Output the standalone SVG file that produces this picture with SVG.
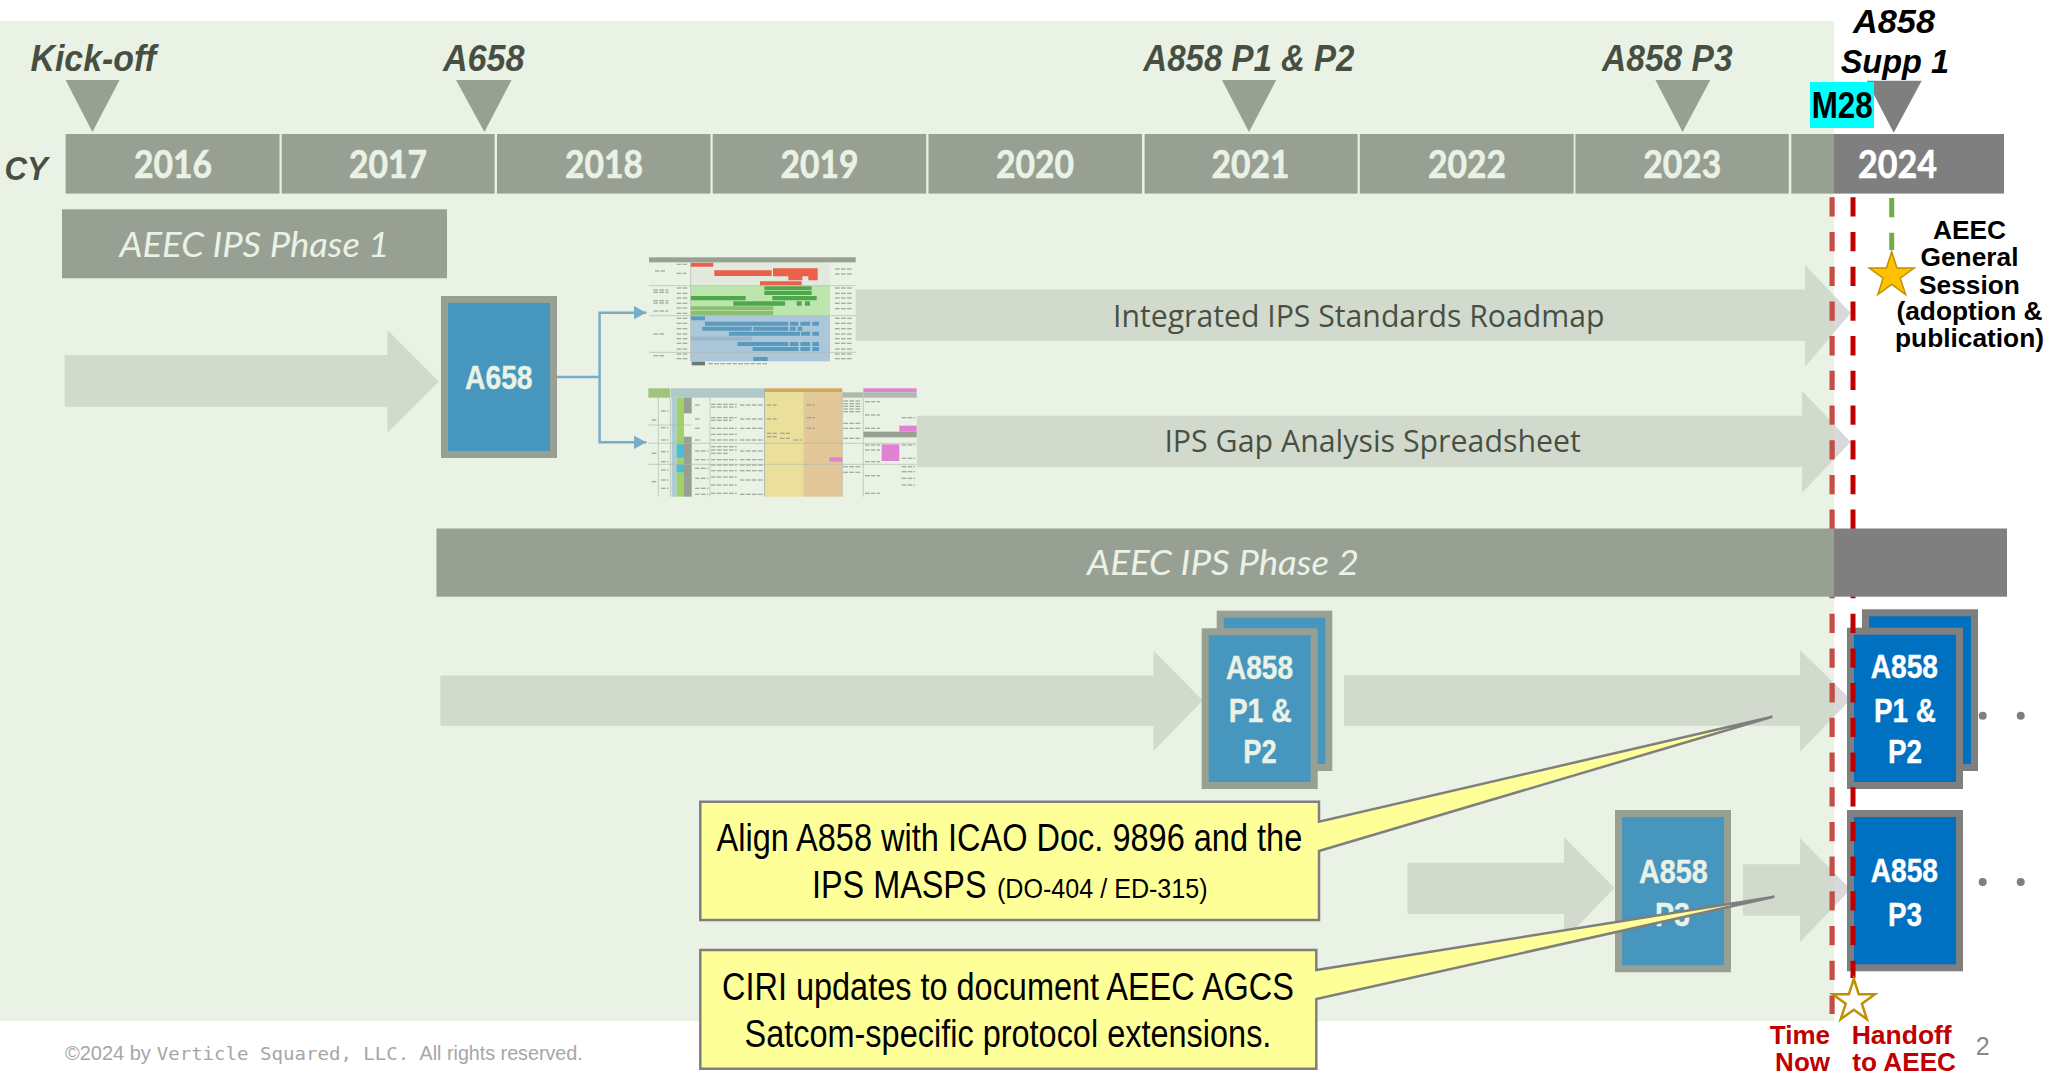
<svg xmlns="http://www.w3.org/2000/svg" width="2049" height="1078" viewBox="0 0 2049 1078">
<style>
.seg{fill:#7F7F7F}
.arrow{fill:#D9D9D9}
.tri{fill:#7F7F7F}
.box{fill:#0070C0;stroke:#7F7F7F;stroke-width:7}
.yr{font:700 38px Lato,"Liberation Sans",sans-serif;fill:#fff;stroke:#fff;stroke-width:.6}
.ms{font:italic 700 36px "Liberation Sans",Arial,sans-serif;fill:#000}
.ph{font:italic 400 35px Lato,"Liberation Sans",sans-serif;fill:#fff}
.bt{font:700 34px "Liberation Sans",Arial,sans-serif;fill:#fff;stroke:#fff;stroke-width:.4}
.lab{font:400 31px "Open Sans","Liberation Sans",sans-serif;fill:#000}
.gs{font:700 26.3px "Liberation Sans",Arial,sans-serif;fill:#000;text-anchor:middle}
.red{font:700 26px "Liberation Sans",Arial,sans-serif;fill:#C00000}
.co{fill:#FFFF99;stroke:#7F7F7F;stroke-width:2.5;stroke-linejoin:miter}
.ct{font:400 38px "Liberation Sans",Arial,sans-serif;fill:#000}
.foot{font:400 20px "Liberation Sans",Arial,sans-serif;fill:#A6A6A6}
.dash{stroke:#C00000;stroke-width:5;stroke-dasharray:19.3 15.4;fill:none}
.conn{stroke:#4F94CC;stroke-width:2.5;fill:none}
.stub{stroke:#6f6f6f;stroke-width:3.2;fill:none;stroke-dasharray:14 4}
</style>
<defs>
<marker id="ah" markerUnits="userSpaceOnUse" markerWidth="13" markerHeight="14" refX="12.4" refY="6.6" orient="auto"><path d="M0,0L12.4,6.6L0,13.2Z" fill="#4F94CC"/></marker>
<filter id="soft" x="-2%" y="-2%" width="104%" height="104%"><feGaussianBlur stdDeviation="1.4"/></filter>
</defs>
<rect width="2049" height="1078" fill="#fff"/>
<g id="timeline">
<rect class="seg" x="65.6" y="134" width="213.9" height="59.6"/>
<rect class="seg" x="281.7" y="134" width="212.9" height="59.6"/>
<rect class="seg" x="497" y="134" width="213.5" height="59.6"/>
<rect class="seg" x="712.7" y="134" width="213.5" height="59.6"/>
<rect class="seg" x="928.5" y="134" width="213.5" height="59.6"/>
<rect class="seg" x="1144.6" y="134" width="213" height="59.6"/>
<rect class="seg" x="1359.8" y="134" width="213.9" height="59.6"/>
<rect class="seg" x="1575.4" y="134" width="213.4" height="59.6"/>
<rect class="seg" x="1791.3" y="134" width="212.7" height="59.6"/>
<text class="yr" x="134" y="177.7" textLength="78" lengthAdjust="spacingAndGlyphs">2016</text>
<text class="yr" x="349" y="177.7" textLength="78" lengthAdjust="spacingAndGlyphs">2017</text>
<text class="yr" x="565" y="177.7" textLength="78" lengthAdjust="spacingAndGlyphs">2018</text>
<text class="yr" x="780.5" y="177.7" textLength="78" lengthAdjust="spacingAndGlyphs">2019</text>
<text class="yr" x="996" y="177.7" textLength="78" lengthAdjust="spacingAndGlyphs">2020</text>
<text class="yr" x="1211.6" y="177.7" textLength="78" lengthAdjust="spacingAndGlyphs">2021</text>
<text class="yr" x="1428" y="177.7" textLength="78" lengthAdjust="spacingAndGlyphs">2022</text>
<text class="yr" x="1643.3" y="177.7" textLength="78" lengthAdjust="spacingAndGlyphs">2023</text>
<text class="yr" x="1858" y="177.7" textLength="79" lengthAdjust="spacingAndGlyphs">2024</text>
<text class="ms" x="4.5" y="180" textLength="43.3" lengthAdjust="spacingAndGlyphs" style="font-size:33px">CY</text>
</g>
<g id="ms-kickoff"><polygon class="tri" points="65.6,80 119.6,80 92.4,132"/><text class="ms" x="30.4" y="71" textLength="125.6" lengthAdjust="spacingAndGlyphs">Kick-off</text></g>
<g id="ms-a658"><polygon class="tri" points="456,80 511.6,80 484.4,132"/><text class="ms" x="442.9" y="71" textLength="81.7" lengthAdjust="spacingAndGlyphs">A658</text></g>
<g id="ms-a858p1p2"><polygon class="tri" points="1221.9,80 1276.3,80 1249,132"/><text class="ms" x="1143.3" y="71" textLength="211.2" lengthAdjust="spacingAndGlyphs">A858 P1 &amp; P2</text></g>
<g id="ms-a858p3"><polygon class="tri" points="1655.4,80 1710.3,80 1682.6,132"/><text class="ms" x="1602" y="71" textLength="130.6" lengthAdjust="spacingAndGlyphs">A858 P3</text></g>
<g id="phase1"><rect x="62" y="209.3" width="385" height="69" fill="#7F7F7F"/><text class="ph" x="119.5" y="256.7" textLength="270" lengthAdjust="spacingAndGlyphs">AEEC IPS Phase 1</text></g>
<g id="roadmap-arrow"><polygon class="arrow" points="855,289.5 1805,289.5 1805,265 1850.7,313 1805,366.7 1805,341 855,341"/><text class="lab" x="1113" y="326.7" textLength="491.5" lengthAdjust="spacingAndGlyphs">Integrated IPS Standards Roadmap</text></g>
<g id="gap-arrow"><polygon class="arrow" points="916.7,415.7 1802,415.7 1802,390.7 1850.7,442 1802,492.7 1802,467 916.7,467"/><text class="lab" x="1164.4" y="452.3" textLength="416.5" lengthAdjust="spacingAndGlyphs">IPS Gap Analysis Spreadsheet</text></g>
<g id="flow-arrows">
<polygon class="arrow" points="64.7,355 387.5,355 387.5,330 438.8,381.5 387.5,432.7 387.5,406.7 64.7,406.7"/>
<polygon class="arrow" points="440.4,675.5 1153.5,675.5 1153.5,650.5 1202.7,700.5 1153.5,751 1153.5,725.7 440.4,725.7"/>
<polygon class="arrow" points="1344,675 1800,675 1800,650 1850.7,699.5 1800,751.7 1800,725.7 1344,725.7"/>
<polygon class="arrow" points="1407.5,862.7 1564,862.7 1564,837.3 1614.5,888 1564,940 1564,914 1407.5,914"/>
<polygon class="arrow" points="1743,864.3 1800,864.3 1800,838.3 1850.7,889.3 1800,942.3 1800,915.7 1743,915.7"/>
</g>
<g id="connectors">
<path class="conn" d="M557,377H599.6"/>
<path class="conn" d="M599.6,377V312.7H646.4" marker-end="url(#ah)"/>
<path class="conn" d="M599.6,377V442.3H646.4" marker-end="url(#ah)"/>
</g>
<g id="a658"><rect class="box" x="444.5" y="299.5" width="109" height="155"/><text class="bt" x="465" y="389" textLength="67.6" lengthAdjust="spacingAndGlyphs">A658</text></g>
<g id="thumb-roadmap" transform="translate(645,254) scale(0.33333)">
<g filter="url(#soft)">
<rect x="12" y="10" width="620" height="325" fill="#fff"/>
<rect x="137" y="25" width="418" height="70" fill="#F2F2F2"/>
<rect x="137" y="95" width="418" height="90" fill="#B8EDA8"/>
<rect x="137" y="185" width="418" height="137" fill="#9DBCEB"/>
<rect x="12" y="10" width="620" height="15" fill="#7F7F7F"/>
<path fill="#FF1A10" d="M137,26h68v12h-68zM208,49h172v17h-172zM384,43h134v13h-134zM384,56h134v11h-134zM430,67h42v12h-42zM490,67h28v12h-28zM345,82h125v12h-125z"/>
<path fill="#0E8A10" d="M358,97h142v12h-142zM358,111h142v12h-142zM137,126h165v13h-165zM382,126h133v13h-133zM265,142h155v13h-155zM455,142h15v13h-15zM480,142h15v13h-15z"/>
<path fill="#6BB04A" d="M137,157h248v12h-248zM137,171h248v13h-248z"/>
<path fill="#1F78C0" d="M137,187h43v12h-43zM180,203h250v12h-250zM435,203h25v12h-25zM466,203h29v12h-29zM502,203h20v12h-20zM172,218h148v12h-148zM325,218h105v12h-105zM435,218h17v12h-17zM458,218h14v12h-14zM252,233h213v12h-213zM468,233h27v12h-27zM502,233h20v12h-20zM277,264h153v12h-153zM435,264h25v12h-25zM466,264h29v12h-29zM502,264h20v12h-20zM323,279h137v12h-137zM466,279h29v12h-29zM502,279h20v12h-20zM325,309h43v12h-43z"/>
<rect x="137" y="248" width="183" height="12" fill="#7FA6D8"/>
<rect x="140" y="323" width="40" height="11" fill="#404040"/>
<path class="stub" d="M190,329H370M30,51H60M95,31H125M95,58H125M25,108H70M25,115H70M25,140H70M25,147H70M25,171H70M25,240H60M25,305H60M95,102H130M95,118H130M95,132H130M95,148H130M95,162H130M95,178H130M95,193H130M95,208H130M95,224H130M95,240H130M95,254H130M95,268H130M95,285H130M95,300H130M95,314H130M570,45H620M570,60H620M570,102H620M570,118H620M570,132H620M570,148H620M570,164H620M570,193H620M570,208H620M570,224H620M570,240H620M570,254H620M570,268H620M570,285H620M570,300H620M570,314H620"/>
<path d="M12,95H632M12,185H632M12,295H632M137,25V322" stroke="#a6a6a6" stroke-width="2" fill="none"/>
</g></g>
<g id="thumb-gap" transform="translate(645,385) scale(0.33333)">
<g filter="url(#soft)">
<rect x="10" y="10" width="805" height="325" fill="#fff"/>
<rect x="10" y="10" width="66" height="28" fill="#8DB85A"/>
<rect x="78" y="10" width="280" height="28" fill="#A3BFD0"/>
<rect x="360" y="10" width="232" height="12" fill="#E08A20"/>
<rect x="360" y="22" width="115" height="313" fill="#FFE38A"/>
<rect x="475" y="22" width="117" height="313" fill="#F2BC85"/>
<rect x="592" y="22" width="63" height="16" fill="#A6A6A6"/>
<rect x="655" y="10" width="160" height="12" fill="#F04FE0"/>
<rect x="655" y="22" width="160" height="16" fill="#A6A6A6"/>
<rect x="80" y="38" width="15" height="297" fill="#9DC3E6"/>
<rect x="95" y="38" width="22" height="297" fill="#8CCB3C"/>
<rect x="95" y="178" width="22" height="40" fill="#00B0F0"/>
<rect x="95" y="238" width="22" height="24" fill="#00B0F0"/>
<rect x="117" y="38" width="23" height="47" fill="#7F7F7F"/>
<rect x="117" y="155" width="23" height="180" fill="#7F7F7F"/>
<rect x="763" y="122" width="52" height="18" fill="#F04FE0"/>
<rect x="710" y="178" width="53" height="50" fill="#F04FE0"/>
<rect x="553" y="217" width="39" height="13" fill="#F04FE0"/>
<rect x="655" y="140" width="160" height="17" fill="#7F7F7F"/>
<rect x="358" y="10" width="2" height="325" fill="#7F7F7F"/>
<path class="stub" d="M198,58H275M198,66H275M198,98H275M198,106H260M198,130H275M198,148H275M198,165H275M198,185H275M198,195H275M198,205H250M198,224H275M198,240H275M198,257H275M198,276H275M198,300H275M198,325H275M150,60H165M150,102H165M150,130H165M150,165H165M150,198H190M150,224H190M150,250H190M150,280H190M150,310H190M150,328H190M285,60H355M285,102H355M285,130H355M285,165H355M285,198H355M285,224H355M285,240H355M285,257H355M285,285H355M285,328H355M365,60H395M365,102H395M365,145H395M365,155H395M405,145H435M405,160H435M445,165H470M485,60H510M485,98H510M485,130H510M595,48H650M595,56H650M595,64H650M595,72H650M595,80H650M595,115H650M595,130H650M595,160H650M595,245H650M595,262H650M660,50H705M660,90H705M660,130H705M660,180H705M660,195H705M660,230H705M660,272H705M660,325H705M770,98H810M770,180H810M770,220H810M770,245H810M770,260H810M770,280H810M770,300H810M20,105H35M20,205H35M20,290H35M48,78H70M48,128H70M48,165H70M48,200H70M48,230H70M48,255H70M48,285H70M48,310H70"/>
<path d="M10,120H140M10,175H815M10,238H815M76,38V335M40,38V335M195,38V335M592,38V335M655,38V335" stroke="#a6a6a6" stroke-width="2" fill="none"/>
</g></g>
<g id="a858p12-left">
<rect class="box" x="1220.2" y="614.2" width="108.6" height="153.3"/>
<rect class="box" x="1205.2" y="631.8" width="109" height="153.7"/>
<text class="bt" x="1226" y="679" textLength="67" lengthAdjust="spacingAndGlyphs">A858</text>
<text class="bt" x="1228.7" y="721.7" textLength="63" lengthAdjust="spacingAndGlyphs">P1 &amp;</text>
<text class="bt" x="1243.3" y="763.3" textLength="33.4" lengthAdjust="spacingAndGlyphs">P2</text>
</g>
<g id="a858p3-left">
<rect class="box" x="1618.5" y="813.5" width="109" height="155.3"/>
<text class="bt" x="1639" y="882.5" textLength="68.8" lengthAdjust="spacingAndGlyphs">A858</text>
<text class="bt" x="1655" y="925.5" textLength="35" lengthAdjust="spacingAndGlyphs">P3</text>
</g>
<g id="a858p12-right">
<rect class="box" x="1865.5" y="612.8" width="109" height="154.7"/>
<rect class="box" x="1850.5" y="631.2" width="109" height="154.3"/>
<text class="bt" x="1870.7" y="678" textLength="67.3" lengthAdjust="spacingAndGlyphs">A858</text>
<text class="bt" x="1874" y="721.7" textLength="62" lengthAdjust="spacingAndGlyphs">P1 &amp;</text>
<text class="bt" x="1888" y="763.3" textLength="34" lengthAdjust="spacingAndGlyphs">P2</text>
</g>
<g id="a858p3-right">
<rect class="box" x="1850.5" y="813.5" width="109" height="154.3"/>
<text class="bt" x="1870.7" y="882.3" textLength="67.3" lengthAdjust="spacingAndGlyphs">A858</text>
<text class="bt" x="1888" y="925.7" textLength="34" lengthAdjust="spacingAndGlyphs">P3</text>
</g>
<g id="continuation-dots" fill="#7F7F7F">
<circle cx="1982.7" cy="715.7" r="4"/><circle cx="2020.7" cy="715.7" r="4"/>
<circle cx="1982.7" cy="882" r="4"/><circle cx="2020.7" cy="882" r="4"/>
</g>
<g id="time-now-line"><path class="dash" d="M1832,197.3V1014"/></g>
<g id="handoff-line"><path class="dash" d="M1853,197.3V978"/></g>
<g id="phase2"><rect x="436.5" y="528.5" width="1570.5" height="68.2" fill="#7F7F7F"/><text class="ph" x="1087" y="575" textLength="272" lengthAdjust="spacingAndGlyphs">AEEC IPS Phase 2</text></g>
<rect id="past-overlay" x="0" y="21" width="1834" height="1000" fill="#C5DBBA" fill-opacity="0.36"/>
<g id="ms-supp"><polygon class="tri" points="1866.7,80.7 1921.7,80.7 1893.7,132.7"/>
<text class="ms" x="1853" y="32.7" textLength="82" lengthAdjust="spacingAndGlyphs" style="font-size:34px">A858</text>
<text class="ms" x="1840.7" y="72.7" textLength="108.3" lengthAdjust="spacingAndGlyphs" style="font-size:34px">Supp 1</text></g>
<g id="m28"><rect x="1810" y="82" width="64" height="46" fill="#00FFFF"/><text class="ms" x="1811.7" y="118.3" textLength="61" lengthAdjust="spacingAndGlyphs" style="font-style:normal">M28</text></g>
<g id="general-session">
<path class="dash" style="stroke:#70AD47" d="M1891.7,198V250"/>
<polygon points="1891.7,251.7 1897,268.1 1914.2,268.1 1900.3,278.2 1905.6,294.6 1891.7,284.45 1877.8,294.6 1883.1,278.2 1869.2,268.1 1886.4,268.1" fill="#FFC000" stroke="#BF9000" stroke-width="1.5"/>
<text class="gs" x="1969.5" y="239">AEEC</text>
<text class="gs" x="1969.5" y="266">General</text>
<text class="gs" x="1969.5" y="294">Session</text>
<text class="gs" x="1969.5" y="320">(adoption &amp;</text>
<text class="gs" x="1969.5" y="346.7">publication)</text>
</g>
<g id="handoff"><polygon points="1853.8,979 1858.8,994.3 1874.9,994.3 1861.9,1003.8 1866.9,1019.2 1853.8,1009.7 1840.7,1019.2 1845.7,1003.8 1832.7,994.3 1848.8,994.3" fill="#fff" stroke="#BF9000" stroke-width="2.5"/>
<text class="red" x="1851.7" y="1044.3" textLength="100" lengthAdjust="spacingAndGlyphs">Handoff</text>
<text class="red" x="1852.3" y="1071" textLength="103.7" lengthAdjust="spacingAndGlyphs">to AEEC</text></g>
<g id="time-now"><text class="red" x="1830" y="1044.3" text-anchor="end">Time</text><text class="red" x="1830" y="1071" text-anchor="end">Now</text></g>
<g id="callout-1">
<path class="co" d="M700.3,801.7H1319V821.7L1772.3,716.7L1319,851V920H700.3Z"/>
<text class="ct" x="716.5" y="851" textLength="585.8" lengthAdjust="spacingAndGlyphs">Align A858 with ICAO Doc. 9896 and the</text>
<text class="ct" x="811.9" y="898.3" textLength="174.7" lengthAdjust="spacingAndGlyphs">IPS MASPS</text>
<text class="ct" x="997" y="898.3" textLength="210.6" lengthAdjust="spacingAndGlyphs" style="font-size:27px">(DO-404 / ED-315)</text>
</g>
<g id="callout-2">
<path class="co" d="M700.3,950H1316.3V970L1774.4,896.7L1316.3,999V1068.7H700.3Z"/>
<text class="ct" x="722" y="1000" textLength="571.9" lengthAdjust="spacingAndGlyphs">CIRI updates to document AEEC AGCS</text>
<text class="ct" x="744.5" y="1046.7" textLength="526.9" lengthAdjust="spacingAndGlyphs">Satcom-specific protocol extensions.</text>
</g>
<g id="footer">
<text class="foot" x="64.9" y="1060" textLength="86" lengthAdjust="spacingAndGlyphs">©2024 by</text>
<text class="foot" x="156.7" y="1060" textLength="252.6" lengthAdjust="spacingAndGlyphs" style="font-family:'DejaVu Sans Mono',monospace;font-size:18px">Verticle Squared, LLC.</text>
<text class="foot" x="419.6" y="1060" textLength="163.1" lengthAdjust="spacingAndGlyphs">All rights reserved.</text>
<text x="1975.7" y="1055" style="font:400 25px 'Liberation Sans',Arial,sans-serif;fill:#898989">2</text>
</g>
</svg>
